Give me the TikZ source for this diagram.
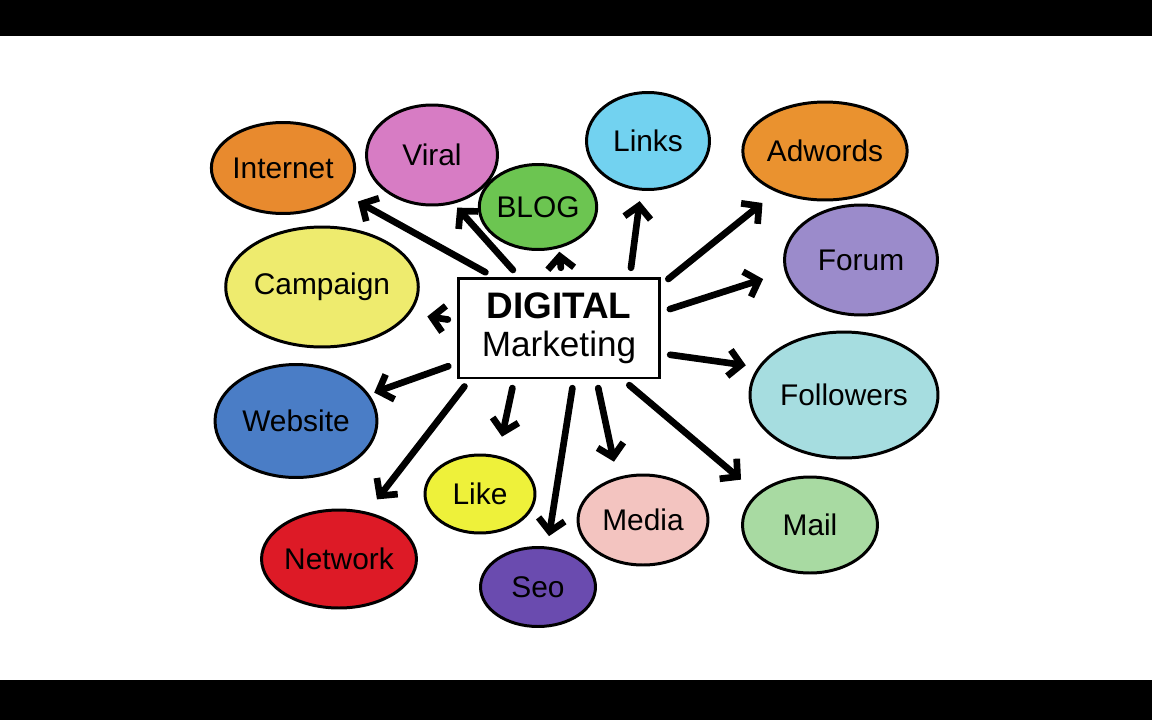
\documentclass[tikz,border=0pt]{standalone}
\usepackage{fontspec}
\setmainfont{Liberation Sans}
\usetikzlibrary{shapes.geometric,arrows.meta}
\definecolor{cinternet}{HTML}{E88A2E}
\definecolor{cviral}{HTML}{D77CC4}
\definecolor{cblog}{HTML}{6CC551}
\definecolor{clinks}{HTML}{72D2F0}
\definecolor{cadwords}{HTML}{EA922F}
\definecolor{ccampaign}{HTML}{EEEB6E}
\definecolor{cforum}{HTML}{9B8BCB}
\definecolor{cwebsite}{HTML}{4A7DC6}
\definecolor{cfollowers}{HTML}{A6DDE0}
\definecolor{clike}{HTML}{EEF13A}
\definecolor{cnetwork}{HTML}{DD1A26}
\definecolor{cseo}{HTML}{6A4BAF}
\definecolor{cmedia}{HTML}{F3C4C0}
\definecolor{cmail}{HTML}{A8DAA2}
\begin{document}
\begin{tikzpicture}[x=0.02cm,y=-0.02cm,
    bubble/.style={draw,ellipse,line width=1.7pt,inner sep=0pt,font=\fontsize{17}{20}\selectfont},
    arr/.style={line width=3.8pt,line cap=round,line join=round,-{Straight Barb[length=7pt,width=15pt]},shorten <=5pt}]
            \useasboundingbox(0,0)rectangle(1152,720);
            \fill[black](0,0)rectangle(1152,36);
            \fill[black](0,680)rectangle(1152,720);
            % centre
            \node[draw,fill=white,line width=1.7pt,minimum width=4.04cm,minimum height=2cm,inner sep=0pt,align=center](dm)at(559,328){{\fontsize{21}{24}\selectfont\bfseries DIGITAL}\\[6pt]{\fontsize{20}{22}\selectfont Marketing}};
            % bubbles
            \node[bubble,fill=cinternet,minimum width=2.86cm,minimum height=1.82cm](internet)at(283,168){Internet};
            \node[bubble,fill=cviral,minimum width=2.62cm,minimum height=2cm](viral)at(432,155){Viral};
            \node[bubble,fill=cblog,minimum width=2.2cm,minimum height=1.7cm](blog)at(538,207){BLOG};
            \node[bubble,fill=clinks,minimum width=2.46cm,minimum height=1.94cm](links)at(648,141){Links};
            \node[bubble,fill=cadwords,minimum width=2.6cm,minimum height=1.96cm](adwords)at(825,151){Adwords};
            \node[bubble,fill=ccampaign,minimum width=3.22cm,minimum height=2.4cm](campaign)at(322,287){Campaign};
            \node[bubble,fill=cforum,minimum width=3.06cm,minimum height=2.2cm](forum)at(861,260){Forum};
            \node[bubble,fill=cwebsite,minimum width=3.24cm,minimum height=2.26cm](website)at(296,421){Website};
            \node[bubble,fill=cfollowers,minimum width=3.76cm,minimum height=2.52cm](followers)at(844,395){Followers};
            \node[bubble,fill=clike,minimum width=2.2cm,minimum height=1.56cm](like)at(480,494){Like};
            \node[bubble,fill=cnetwork,minimum width=2.96cm,minimum height=1.96cm](network)at(339,559){Network};
            \node[bubble,fill=cseo,minimum width=2.3cm,minimum height=1.58cm](seo)at(538,587){Seo};
            \node[bubble,fill=cmedia,minimum width=2.6cm,minimum height=1.8cm](media)at(643,520){Media};
            \node[bubble,fill=cmail,minimum width=2.7cm,minimum height=1.92cm](mail)at(810,525){Mail};
            % arrows
            \draw[arr,shorten >=9pt](dm.142)--(internet.-23);
            \draw[arr,shorten >=3pt](dm.128)--(viral.-66);
            \draw[arr,shorten >=2pt](dm.87)--(blog.-63);
            \draw[arr,shorten >=6pt](dm.36)--(links.262);
            \draw[arr,shorten >=10pt](dm.23)--(adwords.220);
            \draw[arr,shorten >=13pt](dm.9)--(forum.189);
            \draw[arr,shorten >=7pt](dm.-14)--(followers.162);
            \draw[arr,shorten >=10pt](dm.176)--(campaign.-17);
            \draw[arr,shorten >=3pt](dm.199)--(website.20);
            \draw[arr,shorten >=9pt](dm.210)--(network.59);
            \draw[arr,shorten >=11pt](dm.229)--(like.65);
            \draw[arr,shorten >=6pt](dm.286)--(seo.77);
            \draw[arr,shorten >=9pt](dm.306)--(media.121);
            \draw[arr,shorten >=12pt](dm.321)--(mail.149);
        \end{tikzpicture}
\end{document}
